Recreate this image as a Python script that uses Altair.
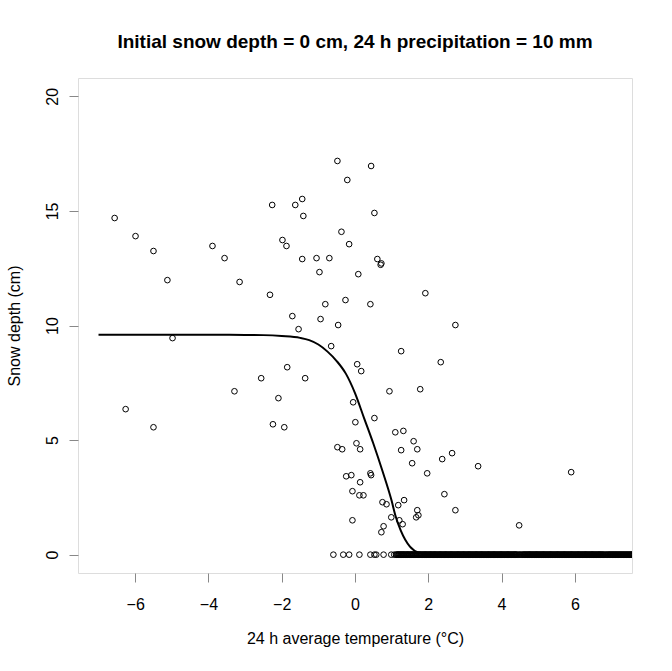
import altair as alt
import pandas as pd

# Scatter observations (temperature, snow depth)
obs_x = [-6.56, -5.99, -5.50, -5.12, -3.89, -3.56, -3.15, -2.32, -2.26, -4.98, -6.26, -5.50,
         -3.29, -2.56, -2.24, -0.48, 0.44, -0.21, -1.63, -1.44, -1.41, 0.53, -0.37, -0.16,
         -1.98, -1.87, -1.44, -1.05, -0.70, 0.61, 0.72, 0.70, -0.97, 0.09, 1.92, -0.81,
         -0.26, 0.42, -1.71, -0.94, -1.54, -0.46, 2.74, -0.65, 1.26, 2.34, 0.06, 0.17,
         -1.85, -1.36, 0.94, 1.78, -2.09, -0.05, -1.93, 0.01, 0.53, 1.10, 1.32, 1.60,
         1.70, 1.26, 2.65, 2.38, 1.56, 1.97, -0.48, -0.35, 0.04, 0.14, -0.24, -0.10,
         0.42, 0.44, 0.14, -0.07, 0.12, 0.23, 2.44, 0.75, 0.86, 1.18, 1.34, 2.74,
         1.70, 1.73, 1.67, 0.99, 1.21, 1.30, -0.07, 0.78, 0.72, 3.36, 5.90, 4.48]
obs_y = [14.69, 13.90, 13.25, 11.98, 13.47, 12.94, 11.90, 11.34, 15.26, 9.45, 6.35, 5.56,
         7.13, 7.70, 5.69, 17.18, 16.96, 16.35, 15.26, 15.52, 14.78, 14.91, 14.09, 13.55,
         13.73, 13.47, 12.90, 12.94, 12.94, 12.90, 12.71, 12.65, 12.33, 12.24, 11.41, 10.93,
         11.11, 10.93, 10.41, 10.28, 9.84, 10.02, 10.02, 9.10, 8.88, 8.40, 8.31, 8.01,
         8.18, 7.70, 7.13, 7.22, 6.83, 6.65, 5.56, 5.78, 5.96, 5.34, 5.40, 4.95,
         4.60, 4.56, 4.43, 4.17, 3.99, 3.55, 4.69, 4.60, 4.86, 4.60, 3.42, 3.47,
         3.55, 3.47, 3.16, 2.77, 2.59, 2.59, 2.64, 2.29, 2.20, 2.16, 2.38, 1.94,
         1.94, 1.72, 1.63, 1.63, 1.50, 1.33, 1.50, 1.24, 0.98, 3.86, 3.60, 1.28]

# Observations with zero snow depth (temperature values)
zero_x = [-0.59, -0.32, -0.16, 0.12, 0.42, 0.53, 0.58, 0.78, 0.99, 1.07,
          1.12, 1.16, 1.19, 1.23, 1.26, 1.30, 1.33, 1.37, 1.41, 1.44, 1.48, 1.52, 1.55, 1.59,
          1.63, 1.66, 1.70, 1.74, 1.77, 1.81, 1.85, 1.89, 1.92, 1.96, 2.00, 2.04, 2.07, 2.11,
          2.15, 2.18, 2.22, 2.26, 2.30, 2.33, 2.37, 2.41, 2.45, 2.48, 2.52, 2.56, 2.60, 2.63,
          2.67, 2.71, 2.75, 2.79, 2.82, 2.86, 2.90, 2.94, 2.97, 3.01, 3.05, 3.09, 3.12, 3.16,
          3.20, 3.24, 3.28, 3.31, 3.35, 3.39, 3.43, 3.46, 3.50, 3.54, 3.58, 3.62, 3.65, 3.69,
          3.73, 3.77, 3.80, 3.84, 3.88, 3.92, 3.96, 3.99, 4.03, 4.07, 4.11, 4.15, 4.18, 4.22,
          4.26, 4.30, 4.34, 4.37, 4.41, 4.47, 4.52, 4.58, 4.62, 4.66, 4.70, 4.74, 4.77, 4.81,
          4.85, 4.89, 4.93, 4.96, 5.00, 5.04, 5.08, 5.12, 5.15, 5.19, 5.23, 5.27, 5.31, 5.34,
          5.38, 5.42, 5.46, 5.50, 5.53, 5.57, 5.61, 5.65, 5.69, 5.72, 5.76, 5.80, 5.84, 5.88,
          5.91, 5.95, 5.99, 6.03, 6.07, 6.10, 6.14, 6.18, 6.22, 6.26, 6.29, 6.33, 6.37, 6.41,
          6.45, 6.48, 6.52, 6.56, 6.60, 6.64, 6.67, 6.71, 6.75, 6.79, 6.85, 6.90, 6.94, 6.98,
          7.02, 7.06, 7.10, 7.14, 7.18, 7.22, 7.26, 7.30, 7.34, 7.38, 7.42, 7.46, 7.50, 7.54,
          7.58, 7.62,
          1.14, 1.18, 1.21, 1.25, 1.28, 1.32, 1.35, 1.39, 1.43, 1.46, 1.50, 1.54, 1.57, 1.61,
          1.65, 1.68, 1.72, 1.76, 1.79, 1.83, 1.87, 1.91, 1.94, 1.98, 2.02, 2.06, 2.09, 2.13,
          2.17, 2.20, 2.24, 2.28, 2.32, 2.35, 2.39, 2.43, 2.47, 2.50, 2.54, 2.58, 2.62, 2.65,
          2.69, 2.73, 2.77, 2.81, 2.84, 2.88, 2.92, 2.96, 2.99, 3.03, 3.07, 3.11, 3.14, 3.18,
          3.22, 3.26, 3.30, 3.33, 3.37, 3.41, 3.45, 3.48, 3.52, 3.56, 3.60, 3.64, 3.67, 3.71,
          3.75, 3.79, 3.82, 3.86, 3.90, 3.94, 3.98, 4.01, 4.05, 4.09, 4.13, 4.17, 4.20, 4.24,
          4.28, 4.32, 4.36, 4.39, 4.43, 4.49, 4.55, 4.60, 4.64, 4.68, 4.72, 4.76, 4.79, 4.83,
          4.87, 4.91, 4.95, 4.98, 5.02, 5.06, 5.10, 5.14, 5.17, 5.21, 5.25, 5.29, 5.33, 5.36,
          5.40, 5.44, 5.48, 5.52, 5.55, 5.59, 5.63, 5.67, 5.71, 5.74, 5.78, 5.82, 5.86, 5.90,
          5.93, 5.97, 6.01, 6.05, 6.09, 6.12, 6.16, 6.20, 6.24, 6.28, 6.31, 6.35, 6.39, 6.43,
          6.47, 6.50, 6.54, 6.58, 6.62, 6.66, 6.69, 6.73, 6.77, 6.82, 6.87, 6.92, 6.96, 7.00,
          7.04, 7.08, 7.12, 7.16, 7.20, 7.24, 7.28, 7.32, 7.36, 7.40, 7.44, 7.48, 7.52, 7.56,
          7.60]

# Fitted curve
curve_x = [-7.0, -6.0, -5.0, -4.0, -3.0, -2.5, -2.0, -1.5, -1.25, -1.0, -0.75, -0.5,
           -0.25, 0.0, 0.25, 0.5, 0.75, 1.0, 1.1, 1.25, 1.5, 1.75, 2.0, 2.5, 7.5]
curve_y = [9.60, 9.60, 9.60, 9.60, 9.59, 9.58, 9.54, 9.46, 9.36, 9.17, 8.86, 8.45,
           7.90, 7.05, 5.95, 4.85, 3.65, 2.35, 1.72, 1.05, 0.35, 0.08, 0.02, 0.0, 0.0]

x_ticks = [-6, -4, -2, 0, 2, 4, 6]
y_ticks = [0, 5, 10, 15, 20]

pts = pd.DataFrame({"t": obs_x + zero_x, "d": obs_y + [0.0] * len(zero_x)})
crv = pd.DataFrame({"t": curve_x, "d": curve_y})

FONT = "Liberation Sans"
W, H = 554, 495

xs = alt.Scale(domain=[-7.56, 7.56], nice=False, zero=False)
ys = alt.Scale(domain=[-0.8, 20.8], nice=False, zero=False)

xaxis = alt.Axis(values=x_ticks, title="24 h average temperature (°C)", grid=False,
                 domain=False, tickSize=9, labelPadding=14, labelFontSize=16,
                 titleFontSize=16, titleFontWeight="normal", titleBaseline="alphabetic",
                 titleX=W / 2, titleY=70, labelFlush=False, labelOverlap=False)
yaxis = alt.Axis(values=y_ticks, title="Snow depth (cm)", grid=False, domain=False,
                 tickSize=9, labelPadding=12, labelFontSize=16, labelAngle=270,
                 labelAlign="center", labelBaseline="alphabetic", titleFontSize=16,
                 titleFontWeight="normal", titleAngle=270, titleAlign="center",
                 titleBaseline="alphabetic", titleX=-58.5, titleY=H / 2,
                 labelFlush=False, labelOverlap=False)

points = alt.Chart(pts).mark_point(shape="circle", filled=False, size=32, strokeWidth=1,
                                   color="black", opacity=1, clip=True).encode(
    x=alt.X("t:Q", scale=xs, axis=xaxis),
    y=alt.Y("d:Q", scale=ys, axis=yaxis),
)

line = alt.Chart(crv).mark_line(color="black", strokeWidth=2, interpolate="monotone",
                                clip=True).encode(
    x=alt.X("t:Q", scale=xs),
    y=alt.Y("d:Q", scale=ys),
)

chart = alt.layer(points, line).properties(
    width=W, height=H,
    title=alt.TitleParams("Initial snow depth = 0 cm, 24 h precipitation = 10 mm",
                          font=FONT, fontSize=19, fontWeight="bold", anchor="middle",
                          baseline="alphabetic", offset=11, color="black"),
    autosize=alt.AutoSizeParams(type="none"),
    padding={"left": 78, "top": 78, "right": 40, "bottom": 98},
).configure_view(stroke="black", strokeWidth=1).configure_axis(
    grid=False, domain=False, tickColor="black", tickWidth=1, labelColor="black",
    titleColor="black", labelFont=FONT, titleFont=FONT
).configure(background="white")

chart.save("out.html", embed_options={"renderer": "svg", "actions": False})
